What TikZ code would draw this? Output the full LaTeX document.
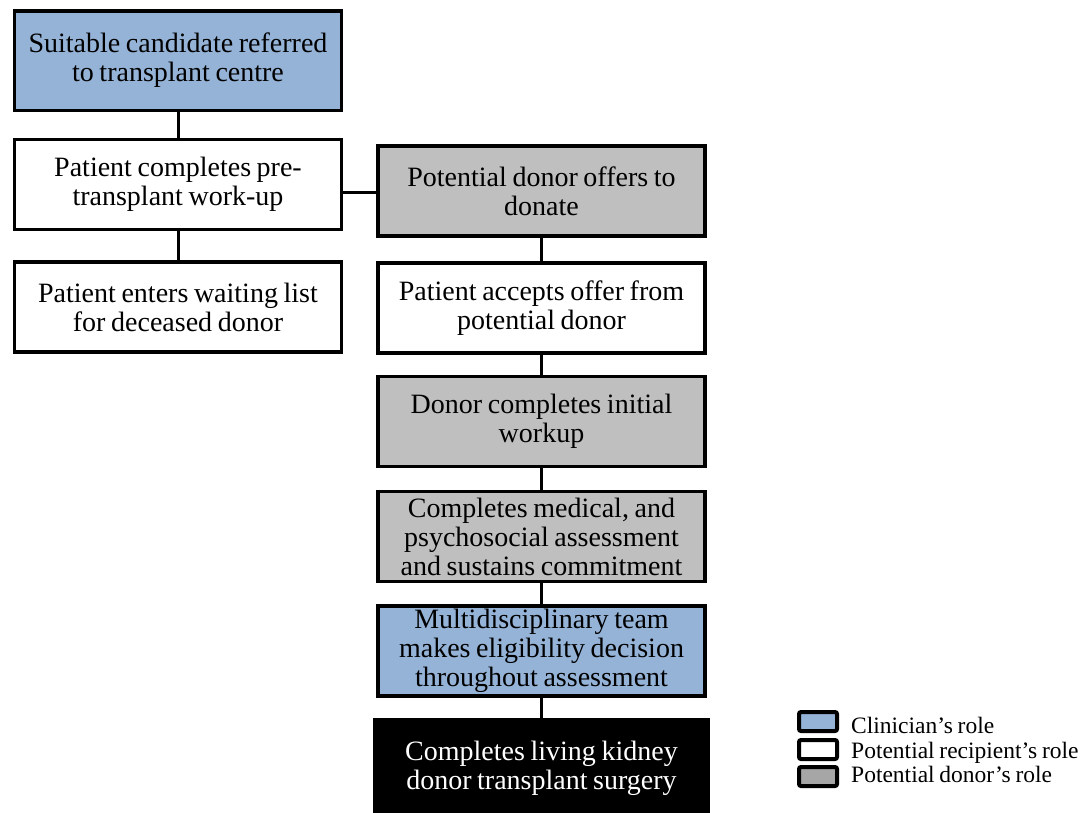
\documentclass[tikz,border=0pt]{standalone}
\usepackage{fontspec}
\setmainfont{Liberation Serif}[WordSpace=0.8]
\definecolor{clinblue}{HTML}{95B3D7}
\definecolor{donorgray}{HTML}{BFBFBF}
\definecolor{keygray}{HTML}{A6A6A6}
\tikzset{
  stage/.style={draw=black, line width=3.5pt, minimum width=327pt, minimum height=90pt,
    align=center, inner sep=0pt, font=\fontsize{28}{29}\selectfont},
  clinician/.style={stage, fill=clinblue},
  recipient/.style={stage, fill=white},
  donor/.style={stage, fill=donorgray},
  surgery/.style={stage, fill=black, text=white},
  link/.style={line width=3pt},
  keybox/.style={draw=black, line width=4pt, rounded corners=2pt, minimum width=38pt, minimum height=19pt, inner sep=0pt},
  keytext/.style={anchor=base west, inner sep=0pt, font=\fontsize{23.5}{26}\selectfont}
}
\begin{document}
\begin{tikzpicture}[x=1pt, y=-1pt]
\useasboundingbox (0,0) rectangle (1088,812);

% left column: referral and recipient steps
\node[clinician, minimum height=99.5pt] (refer) at (178,60.5) {Suitable candidate referred\\to transplant centre};
\node[recipient] (workup) at (178,184.5) {Patient completes pre-\\transplant work-up};
\node[recipient] (waitlist) at (178,307) {Patient enters waiting list\\for deceased donor};

% right column: living donor pathway
\node[donor] (offer) at (541.5,191) {Potential donor offers to\\donate};
\node[recipient] (accept) at (541.5,308) {Patient accepts offer from\\potential donor};
\node[donor] (initial) at (541.5,421.5) {Donor completes initial\\workup};
\node[donor] (assess) at (541.5,536.5) {Completes medical, and\\psychosocial assessment\\and sustains commitment};
\node[clinician] (mdt) at (541.5,651) {Multidisciplinary team\\makes eligibility decision\\throughout assessment};
\node[surgery, minimum width=334pt, minimum height=96pt] (surgery) at (541.5,768) {Completes living kidney\\donor transplant surgery};

% connectors
\draw[link] (refer.south) -- (workup.north);
\draw[link] (workup.south) -- (waitlist.north);
\draw[link] (workup.east |- 0,192) -- (offer.west |- 0,192);
\draw[link] (offer.south) -- (accept.north);
\draw[link] (accept.south) -- (initial.north);
\draw[link] (initial.south) -- (assess.north);
\draw[link] (assess.south) -- (mdt.north);
\draw[link] (mdt.south) -- (surgery.north);

% key
\node[keybox, fill=clinblue] (keyclin) at (818,721.5) {};
\node[keybox, fill=white] (keyrecip) at (818,749.5) {};
\node[keybox, fill=keygray] (keydonor) at (818,776.5) {};
\node[keytext] (keyclintext) at (851,733) {Clinician’s role};
\node[keytext] (keyreciptext) at (851,758) {Potential recipient’s role};
\node[keytext] (keydonortext) at (851,782) {Potential donor’s role};
\end{tikzpicture}
\end{document}
